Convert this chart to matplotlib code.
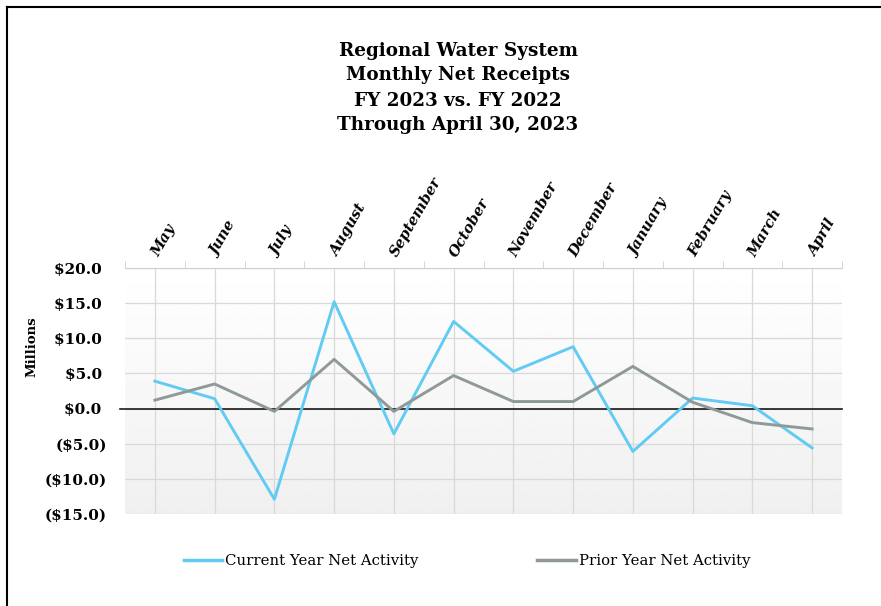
import numpy as np
import matplotlib
matplotlib.use("Agg")
from matplotlib import pyplot as plt
from matplotlib.ticker import FuncFormatter, MultipleLocator
from matplotlib.lines import Line2D

# Monthly net receipts, $ millions
months = ['May', 'June', 'July', 'August', 'September', 'October',
          'November', 'December', 'January', 'February', 'March', 'April']
current_year = [3.9, 1.4, -12.9, 15.2, -3.6, 12.4, 5.3, 8.8, -6.1, 1.5, 0.4, -5.6]
prior_year = [1.2, 3.5, -0.4, 7.0, -0.4, 4.7, 1.0, 1.0, 6.0, 0.9, -2.0, -2.9]

title = 'Regional Water System\nMonthly Net Receipts\nFY 2023 vs. FY 2022\nThrough April 30, 2023'

plt.rcParams['font.family'] = ['DejaVu Serif']

fig = plt.figure(figsize=(8.81, 6.06), dpi=100)
ax = fig.add_axes([125 / 881, 1 - 514 / 606, (842 - 125) / 881, (514 - 268) / 606])

x = np.arange(len(months))

# light gradient background in the plot area
grad = np.linspace(1.0, 0.94, 256).reshape(-1, 1)
ax.imshow(grad, cmap='gray', vmin=0, vmax=1, aspect='auto',
          extent=(-0.5, 11.5, -15, 20), zorder=0)

ax.plot(x, current_year, color='#62cbf3', lw=2.1, label='Current Year Net Activity', zorder=3)
ax.plot(x, prior_year, color='#8f9a98', lw=2.1, label='Prior Year Net Activity', zorder=3)
ax.axhline(0, color='#1a1a1a', lw=1.2, zorder=2, xmin=-0.007, clip_on=False)

ax.set_xlim(-0.5, 11.5)
ax.set_ylim(-15, 20)
ax.yaxis.set_major_locator(MultipleLocator(5))
ax.yaxis.set_major_formatter(FuncFormatter(
    lambda v, p: f'${v:.1f} ' if v >= 0 else f'(${-v:.1f})'))
ax.grid(axis='y', color='#d9d9d9', lw=0.9, zorder=1)
for xi in x:
    ax.axvline(xi, color='#d9d9d9', lw=0.9, zorder=1)

# month labels on top
ax.xaxis.tick_top()
ax.set_xticks(x)
ax.set_xticklabels(months, rotation=60, ha='left', va='center',
                   rotation_mode='anchor', fontweight='bold', fontstyle='italic',
                   fontsize=10.5)
ax.tick_params(axis='x', length=0, pad=9)
ax.set_xticks(np.arange(-0.5, 12, 1), minor=True)
ax.tick_params(axis='x', which='minor', top=True, bottom=False, length=5,
               color='#d0d0d0', direction='out')
ax.tick_params(axis='y', length=0, pad=13, labelsize=11)
for lbl in ax.get_yticklabels():
    lbl.set_fontweight('bold')

for side in ['left', 'right', 'bottom']:
    ax.spines[side].set_visible(False)
ax.spines['top'].set_color('#d0d0d0')

fig.text(32 / 881, 1 - 347 / 606, 'Millions', rotation=90, ha='center', va='center',
         fontweight='bold', fontsize=9.5)

fig.text(458 / 881, 1 - 88 / 606, title, ha='center', va='center',
         fontweight='bold', fontsize=13.2, linespacing=1.5)

handles = [Line2D([], [], color='#62cbf3', lw=2.5), Line2D([], [], color='#8f9a98', lw=2.5)]
fig.legend(handles, ['Current Year Net Activity', 'Prior Year Net Activity'],
           loc='center', bbox_to_anchor=(467 / 881, 1 - 561 / 606), ncol=2,
           frameon=False, handlelength=2.6, handletextpad=0.2, columnspacing=8.0,
           prop={'size': 10.7})

# partial frame around the chart
fig.add_artist(Line2D([7 / 881, 7 / 881], [0, 1 - 6.5 / 606], color='black', lw=1.5))
fig.add_artist(Line2D([7 / 881, 1], [1 - 6.5 / 606, 1 - 6.5 / 606], color='black', lw=1.5))

fig.savefig('out.png', dpi=100)
